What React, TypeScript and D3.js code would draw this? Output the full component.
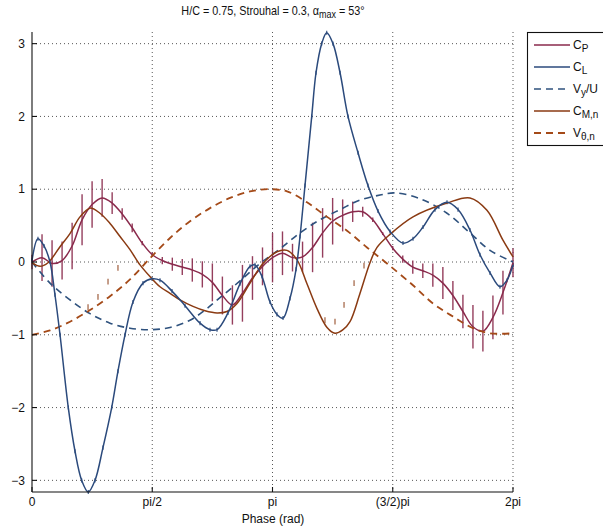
import React from 'react';
import * as d3 from 'd3';

// ---------- data (phase in rad) ----------
const xTickValues = [0, Math.PI / 2, Math.PI, 1.5 * Math.PI, 2 * Math.PI];
const xTickLabels = ['0', 'pi/2', 'pi', '(3/2)pi', '2pi'];
const yTickValues = [3, 2, 1, 0, -1, -2, -3];
const yTickLabels = ['3', '2', '1', '0', '\u22121', '\u22122', '\u22123'];

const cpPhase = [0, 0.131, 0.262, 0.393, 0.524, 0.654, 0.785, 0.916, 1.047, 1.178, 1.309, 1.44, 1.571, 1.702, 1.833, 1.963, 2.094, 2.225, 2.356, 2.487, 2.618, 2.749, 2.88, 3.011, 3.142, 3.272, 3.403, 3.534, 3.665, 3.796, 3.927, 4.058, 4.189, 4.32, 4.451, 4.581, 4.712, 4.843, 4.974, 5.105, 5.236, 5.367, 5.498, 5.629, 5.76, 5.89, 6.021, 6.152, 6.283];
const cpValue = [0, 0.06, -0.02, 0.02, 0.22, 0.58, 0.79, 0.88, 0.81, 0.66, 0.47, 0.26, 0.1, 0.02, -0.03, -0.07, -0.11, -0.17, -0.28, -0.46, -0.59, -0.43, -0.22, -0.06, 0.06, 0.12, 0.06, 0.07, 0.2, 0.4, 0.56, 0.64, 0.69, 0.69, 0.58, 0.39, 0.19, 0.04, -0.07, -0.12, -0.18, -0.29, -0.46, -0.68, -0.89, -0.95, -0.76, -0.42, -0.01];
const cpError = [0.1, 0.32, 0.32, 0.26, 0.32, 0.35, 0.32, 0.26, 0.15, 0.08, 0.06, 0.03, 0.03, 0.05, 0.09, 0.11, 0.16, 0.18, 0.26, 0.26, 0.27, 0.39, 0.3, 0.26, 0.34, 0.3, 0.19, 0.21, 0.34, 0.34, 0.32, 0.22, 0.14, 0.07, 0.03, 0.02, 0.03, 0.05, 0.09, 0.1, 0.16, 0.22, 0.2, 0.23, 0.3, 0.28, 0.3, 0.3, 0.2];

const clPhase = [0, 0.078, 0.157, 0.235, 0.3, 0.366, 0.474, 0.562, 0.649, 0.735, 0.823, 0.927, 1.041, 1.123, 1.215, 1.319, 1.45, 1.568, 1.672, 1.829, 1.999, 2.195, 2.325, 2.417, 2.56, 2.717, 2.848, 2.913, 3.004, 3.109, 3.2, 3.279, 3.37, 3.449, 3.501, 3.566, 3.654, 3.71, 3.784, 3.85, 3.932, 4.024, 4.128, 4.259, 4.389, 4.52, 4.677, 4.846, 4.977, 5.108, 5.264, 5.421, 5.565, 5.721, 5.852, 5.983, 6.113, 6.205, 6.283];
const clValue = [0.02, 0.32, 0.22, 0.0, -0.45, -1.0, -2.0, -2.6, -3.0, -3.16, -3.0, -2.55, -2.0, -1.5, -1.0, -0.55, -0.29, -0.23, -0.25, -0.4, -0.6, -0.84, -0.93, -0.93, -0.7, -0.3, -0.06, -0.04, -0.2, -0.55, -0.72, -0.77, -0.5, -0.1, 0.35, 1.05, 2.0, 2.6, 3.0, 3.15, 3.0, 2.6, 2.0, 1.5, 1.05, 0.7, 0.42, 0.26, 0.32, 0.48, 0.72, 0.82, 0.72, 0.44, 0.1, -0.15, -0.34, -0.25, -0.04];

const vyPhase = [0, 0.235, 0.496, 0.758, 1.019, 1.28, 1.541, 1.803, 2.064, 2.26, 2.456, 2.717, 2.978, 3.24, 3.501, 3.762, 4.023, 4.285, 4.546, 4.742, 5.068, 5.421, 5.721, 5.983, 6.283];
const vyValue = [0, -0.29, -0.52, -0.71, -0.84, -0.91, -0.93, -0.9, -0.8, -0.66, -0.49, -0.26, -0.02, 0.18, 0.4, 0.58, 0.72, 0.85, 0.92, 0.95, 0.87, 0.67, 0.4, 0.16, 0.0];

const cmPhase = [0, 0.105, 0.209, 0.366, 0.496, 0.627, 0.758, 0.888, 1.019, 1.15, 1.28, 1.411, 1.541, 1.672, 1.803, 1.933, 2.103, 2.26, 2.417, 2.547, 2.678, 2.848, 3.017, 3.2, 3.331, 3.462, 3.592, 3.723, 3.854, 3.958, 4.063, 4.154, 4.285, 4.415, 4.507, 4.677, 4.977, 5.421, 5.721, 5.943, 6.152, 6.283];
const cmValue = [-0.01, -0.06, -0.01, 0.21, 0.39, 0.62, 0.74, 0.67, 0.53, 0.35, 0.17, -0.04, -0.2, -0.34, -0.43, -0.52, -0.61, -0.67, -0.7, -0.68, -0.57, -0.29, -0.02, 0.14, 0.16, 0.03, -0.3, -0.64, -0.9, -0.98, -0.93, -0.82, -0.43, -0.01, 0.2, 0.38, 0.62, 0.81, 0.88, 0.71, 0.3, 0.07];

const vthPhase = [0, 0.235, 0.496, 0.758, 1.019, 1.28, 1.541, 1.803, 2.064, 2.325, 2.586, 2.848, 3.083, 3.331, 3.592, 3.854, 4.115, 4.376, 4.637, 4.977, 5.238, 5.5, 5.761, 5.983, 6.283];
const vthValue = [-1.0, -0.94, -0.82, -0.66, -0.47, -0.24, 0.05, 0.33, 0.56, 0.74, 0.88, 0.97, 1.0, 0.97, 0.82, 0.62, 0.43, 0.2, -0.02, -0.32, -0.57, -0.75, -0.91, -0.98, -0.98];

// faint short marks (remnants of error bars)
const markPhase = [0.732, 0.862, 0.993, 1.123, 3.827, 3.958, 4.076, 4.207, 4.337];
const markValue = [-0.62, -0.48, -0.27, -0.08, -0.8, -0.82, -0.59, -0.29, -0.05];

const legendLabels: [string, string, string][] = [
  ['C', 'P', ''],
  ['C', 'L', ''],
  ['V', 'y', '/U'],
  ['C', 'M,n', ''],
  ['V', '\u03b8,n', ''],
];

// ---------- styles ----------
const COL_CP = '#8a2a4c';
const COL_CL = '#2b4a7c';
const COL_VY = '#2f527e';
const COL_CM = '#8a3a12';
const COL_VTH = '#a44a18';
const DASH = '7,5';
const FONT = '"Liberation Sans", Arial, Helvetica, sans-serif';

const PL = 32, PR = 513, PT = 32, PB = 492;

export default function App() {
  const x = d3.scaleLinear().domain([0, 2 * Math.PI]).range([PL, PR]);
  const y = d3.scaleLinear().domain([-3.16, 3.16]).range([PB, PT]);

  const mk = (ph: number[], v: number[]) => {
    const line = d3.line<number>()
      .x((_, i) => x(ph[i]))
      .y((d) => y(d))
      .curve(d3.curveCatmullRom.alpha(0.5));
    return line(v) || '';
  };

  const series = [
    { key: 'cp', d: mk(cpPhase, cpValue), color: COL_CP, dash: undefined, w: 1.5 },
    { key: 'vy', d: mk(vyPhase, vyValue), color: COL_VY, dash: DASH, w: 1.6 },
    { key: 'vth', d: mk(vthPhase, vthValue), color: COL_VTH, dash: DASH, w: 1.8 },
    { key: 'cm', d: mk(cmPhase, cmValue), color: COL_CM, dash: undefined, w: 1.5 },
    { key: 'cl', d: mk(clPhase, clValue), color: COL_CL, dash: undefined, w: 1.5 },
  ];

  const legendStyles = [
    { color: COL_CP, dash: undefined, w: 1.5 },
    { color: COL_CL, dash: undefined, w: 1.5 },
    { color: COL_VY, dash: DASH, w: 1.6 },
    { color: COL_CM, dash: undefined, w: 1.5 },
    { color: COL_VTH, dash: DASH, w: 1.8 },
  ];

  return (
    <svg width={603} height={529} style={{ position: 'absolute', left: 0, top: 0, background: '#fff' }}
      fontFamily={FONT}>
      <rect x={0} y={0} width={603} height={529} fill="#fff" />
      {/* title */}
      <g transform="translate(273,0) scale(0.9,1) translate(-273,0)">
        <text x={273} y={15} fontSize={12} textAnchor="middle" fill="#111">
          H/C = 0.75, Strouhal = 0.3, {'\u03b1'}
          <tspan fontSize={10} dy={3}>max</tspan>
          <tspan dy={-3}> = 53°</tspan>
        </text>
      </g>

      {/* grid */}
      <g stroke="#444" strokeWidth={0.9} strokeDasharray="1,3">
        {yTickValues.map((v) => (
          <line key={'gy' + v} x1={PL} x2={PR} y1={y(v)} y2={y(v)} />
        ))}
        {xTickValues.slice(1).map((v, i) => (
          <line key={'gx' + i} x1={x(v)} x2={x(v)} y1={PT} y2={PB} />
        ))}
      </g>

      {/* CP error bars */}
      <g stroke={COL_CP} strokeWidth={1.4} opacity={0.9}>
        {cpPhase.map((p, i) => (
          <line key={'eb' + i} x1={x(p)} x2={x(p)} y1={y(cpValue[i] - cpError[i])} y2={y(cpValue[i] + cpError[i])} />
        ))}
      </g>
      {/* CL small error ticks */}
      <g stroke={COL_CL} strokeWidth={1.1}>
        {clPhase.map((p, i) => (
          <line key={'cle' + i} x1={x(p)} x2={x(p)} y1={y(clValue[i] - 0.028)} y2={y(clValue[i] + 0.028)} />
        ))}
      </g>
      {/* faint marks */}
      <g stroke={COL_CM} strokeWidth={1.3} opacity={0.75}>
        {markPhase.map((p, i) => (
          <line key={'mk' + i} x1={x(p)} x2={x(p)} y1={y(markValue[i] - 0.04)} y2={y(markValue[i] + 0.04)} />
        ))}
      </g>

      {/* series */}
      {series.map((s) => (
        <path key={s.key} d={s.d} fill="none" stroke={s.color} strokeWidth={s.w} strokeDasharray={s.dash} />
      ))}

      {/* axes */}
      <g stroke="#111" strokeWidth={1.1}>
        <line x1={PL} x2={PL} y1={PT} y2={PB} />
        <line x1={PL} x2={PR} y1={PB} y2={PB} />
        {yTickValues.map((v) => (
          <line key={'ty' + v} x1={PL} x2={PL + 5} y1={y(v)} y2={y(v)} />
        ))}
        {xTickValues.map((v, i) => (
          <line key={'tx' + i} x1={x(v)} x2={x(v)} y1={PB} y2={PB - 5} />
        ))}
      </g>
      <g fontSize={12} fill="#111">
        {yTickValues.map((v, i) => (
          <text key={'ly' + v} x={PL - 7} y={y(v)} dy="0.35em" textAnchor="end">{yTickLabels[i]}</text>
        ))}
        {xTickValues.map((v, i) => (
          <text key={'lx' + i} x={x(v)} y={506} textAnchor="middle">{xTickLabels[i]}</text>
        ))}
        <text x={273} y={523} textAnchor="middle">Phase (rad)</text>
      </g>

      {/* legend */}
      <rect x={527.5} y={32.5} width={90} height={113} fill="#fff" stroke="#111" strokeWidth={1.1} />
      {legendLabels.map((lab, i) => {
        const ly = 45 + i * 22;
        const st = legendStyles[i];
        return (
          <g key={'lg' + i}>
            <line x1={534} x2={570} y1={ly} y2={ly} stroke={st.color} strokeWidth={st.w} strokeDasharray={st.dash} />
            <text x={573} y={ly} dy="0.35em" fontSize={12} fill="#111">
              {lab[0]}
              <tspan fontSize={10} dy={3}>{lab[1]}</tspan>
              {lab[2] ? <tspan dy={-3}>{lab[2]}</tspan> : null}
            </text>
          </g>
        );
      })}
    </svg>
  );
}
